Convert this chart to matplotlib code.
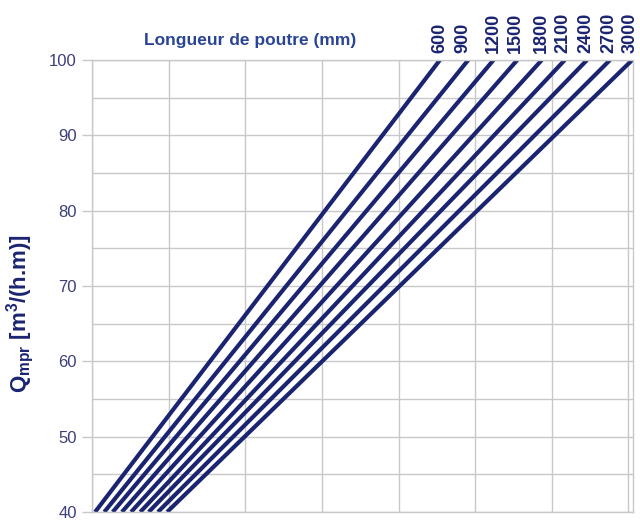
import numpy as np
import matplotlib
matplotlib.use('Agg')
from matplotlib import pyplot as plt

plt.rcParams['font.family'] = ['Liberation Sans', 'DejaVu Sans']
plt.rcParams['mathtext.default'] = 'regular'

# beam lengths (mm) and where each line crosses Q=40 and Q=100 (x in grid units)
lengths = [600, 900, 1200, 1500, 1800, 2100, 2400, 2700, 3000]
x_at_40 = [0.04, 0.16, 0.27, 0.39, 0.51, 0.63, 0.74, 0.86, 0.98]
x_at_100 = [4.54, 4.91, 5.24, 5.55, 5.87, 6.17, 6.46, 6.76, 7.05]
label_x = [4.54, 4.84, 5.24, 5.52, 5.87, 6.15, 6.44, 6.74, 7.02]
q_range = [40, 100]

LINE_COL = '#1b2470'
GRID_COL = '#c8c8c8'

fig = plt.figure(figsize=(6.4, 5.23), dpi=100)
ax = fig.add_axes([92 / 640, 11 / 523, 541 / 640, 452 / 523])

for L, x0, x1, lx in zip(lengths, x_at_40, x_at_100, label_x):
    ax.plot([x0, x1], q_range, color=LINE_COL, lw=3.0, solid_capstyle='butt')
    ax.text(lx, 100.9, str(L), rotation=90, ha='center', va='bottom',
            fontsize=13, fontweight='bold', color=LINE_COL, clip_on=False)

ax.set_xlim(0, 7.06)
ax.set_ylim(40, 100)
ax.set_xticks(np.arange(0, 8))
ax.set_xticklabels([])
ax.tick_params(axis='x', length=0)
ax.set_yticks(np.arange(40, 101, 10))
ax.set_yticks(np.arange(45, 100, 10), minor=True)
ax.tick_params(axis='y', which='major', length=7, color=GRID_COL, width=1,
               labelsize=12, labelcolor='#3d3f78', pad=4)
ax.tick_params(axis='y', which='minor', length=0)
ax.grid(True, which='both', color=GRID_COL, lw=1)
ax.set_axisbelow(True)
for s in ax.spines.values():
    s.set_color(GRID_COL)
    s.set_linewidth(1)

fig.text(250 / 640, 1 - 40 / 523, 'Longueur de poutre (mm)', ha='center', va='center',
         fontsize=12.5, fontweight='bold', color='#2a4596')
fig.text(20 / 640, 1 - 313 / 523, 'Q$_{mpr}$ [m$^{3}$/(h.m)]', rotation=90,
         ha='center', va='center', fontsize=16, fontweight='bold', color=LINE_COL)

fig.savefig('out.png', dpi=100)
